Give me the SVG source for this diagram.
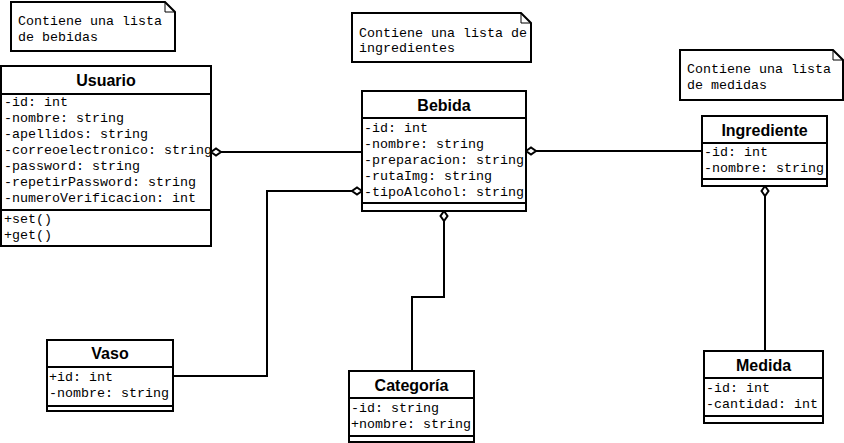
<svg xmlns="http://www.w3.org/2000/svg" width="844" height="443" viewBox="0 0 844 443">
<style>
.box{fill:#fff;stroke:#000;stroke-width:2}
.sep{stroke:#000;stroke-width:2}
.t{font-family:"Liberation Sans",Arial,sans-serif;font-weight:bold;font-size:16px;text-anchor:middle;fill:#000}
.a{font-family:"Liberation Mono","Courier New",monospace;font-size:13.33px;fill:#000}
.note{fill:#fff;stroke:#000;stroke-width:2}
.fold{fill:none;stroke:#000;stroke-width:1}
.c{fill:none;stroke:#000;stroke-width:2}
.d{fill:#fff;stroke:#000;stroke-width:2}
</style>
<rect width="844" height="443" fill="#fff"/>
<g id="note1">
<path class="note" d="M11,2 H165 L175,12 V51 H11 Z"/>
<path class="fold" d="M165,2 V12 H175"/>
<text class="a" x="18" y="25">Contiene una lista</text>
<text class="a" x="18" y="41">de bebidas</text>
</g>
<g id="note2">
<path class="note" d="M352,13 H521 L531,23 V62 H352 Z"/>
<path class="fold" d="M521,13 V23 H531"/>
<text class="a" x="359" y="37">Contiene una lista de</text>
<text class="a" x="359" y="52">ingredientes</text>
</g>
<g id="note3">
<path class="note" d="M680,50 H833 L843,60 V100 H680 Z"/>
<path class="fold" d="M833,50 V60 H843"/>
<text class="a" x="687" y="73">Contiene una lista</text>
<text class="a" x="687" y="89">de medidas</text>
</g>
<g id="connectors">
<path class="c" d="M221,152 H362"/>
<path class="d" d="M211,152 L216,148.5 L221,152 L216,155.5 Z"/>
<path class="c" d="M173,376 H267 V191 H352"/>
<path class="d" d="M362,191 L357,187.5 L352,191 L357,194.5 Z"/>
<path class="c" d="M444,221 V297 H412 V371"/>
<path class="d" d="M444,211 L447.5,216 L444,221 L440.5,216 Z"/>
<path class="c" d="M536,151 H702"/>
<path class="d" d="M526,151 L531,147.5 L536,151 L531,154.5 Z"/>
<path class="c" d="M765,196 V351"/>
<path class="d" d="M765,186 L768.5,191 L765,196 L761.5,191 Z"/>
</g>
<g id="usuario">
<rect class="box" x="1" y="66" width="210" height="180"/>
<line class="sep" x1="1" y1="94" x2="211" y2="94"/>
<line class="sep" x1="1" y1="210" x2="211" y2="210"/>
<text class="t" x="106" y="86">Usuario</text>
<text class="a" x="4" y="106">-id: int</text>
<text class="a" x="4" y="122">-nombre: string</text>
<text class="a" x="4" y="138">-apellidos: string</text>
<text class="a" x="4" y="154">-correoelectronico: string</text>
<text class="a" x="4" y="170">-password: string</text>
<text class="a" x="4" y="186">-repetirPassword: string</text>
<text class="a" x="4" y="202">-numeroVerificacion: int</text>
<text class="a" x="4" y="223">+set()</text>
<text class="a" x="4" y="239">+get()</text>
</g>
<g id="bebida">
<rect class="box" x="362" y="91" width="164" height="120"/>
<line class="sep" x1="362" y1="118" x2="526" y2="118"/>
<line class="sep" x1="362" y1="203" x2="526" y2="203"/>
<text class="t" x="444" y="111">Bebida</text>
<text class="a" x="364" y="132">-id: int</text>
<text class="a" x="364" y="148">-nombre: string</text>
<text class="a" x="364" y="164">-preparacion: string</text>
<text class="a" x="364" y="180">-rutaImg: string</text>
<text class="a" x="364" y="196">-tipoAlcohol: string</text>
</g>
<g id="ingrediente">
<rect class="box" x="702" y="116" width="125" height="70"/>
<line class="sep" x1="702" y1="143" x2="827" y2="143"/>
<line class="sep" x1="702" y1="179" x2="827" y2="179"/>
<text class="t" x="764.5" y="136">Ingrediente</text>
<text class="a" x="704" y="156">-id: int</text>
<text class="a" x="704" y="172">-nombre: string</text>
</g>
<g id="vaso">
<rect class="box" x="47" y="340" width="126" height="71"/>
<line class="sep" x1="47" y1="367" x2="173" y2="367"/>
<line class="sep" x1="47" y1="406" x2="173" y2="406"/>
<text class="t" x="110" y="359">Vaso</text>
<text class="a" x="49" y="381">+id: int</text>
<text class="a" x="49" y="397">-nombre: string</text>
</g>
<g id="categoria">
<rect class="box" x="349" y="371" width="125" height="71"/>
<line class="sep" x1="349" y1="398" x2="474" y2="398"/>
<line class="sep" x1="349" y1="436" x2="474" y2="436"/>
<text class="t" x="411.5" y="391">Categoría</text>
<text class="a" x="351" y="412">-id: string</text>
<text class="a" x="351" y="428">+nombre: string</text>
</g>
<g id="medida">
<rect class="box" x="704" y="351" width="119" height="72"/>
<line class="sep" x1="704" y1="378" x2="823" y2="378"/>
<line class="sep" x1="704" y1="416" x2="823" y2="416"/>
<text class="t" x="763.5" y="371">Medida</text>
<text class="a" x="706" y="392">-id: int</text>
<text class="a" x="706" y="408">-cantidad: int</text>
</g>
</svg>
